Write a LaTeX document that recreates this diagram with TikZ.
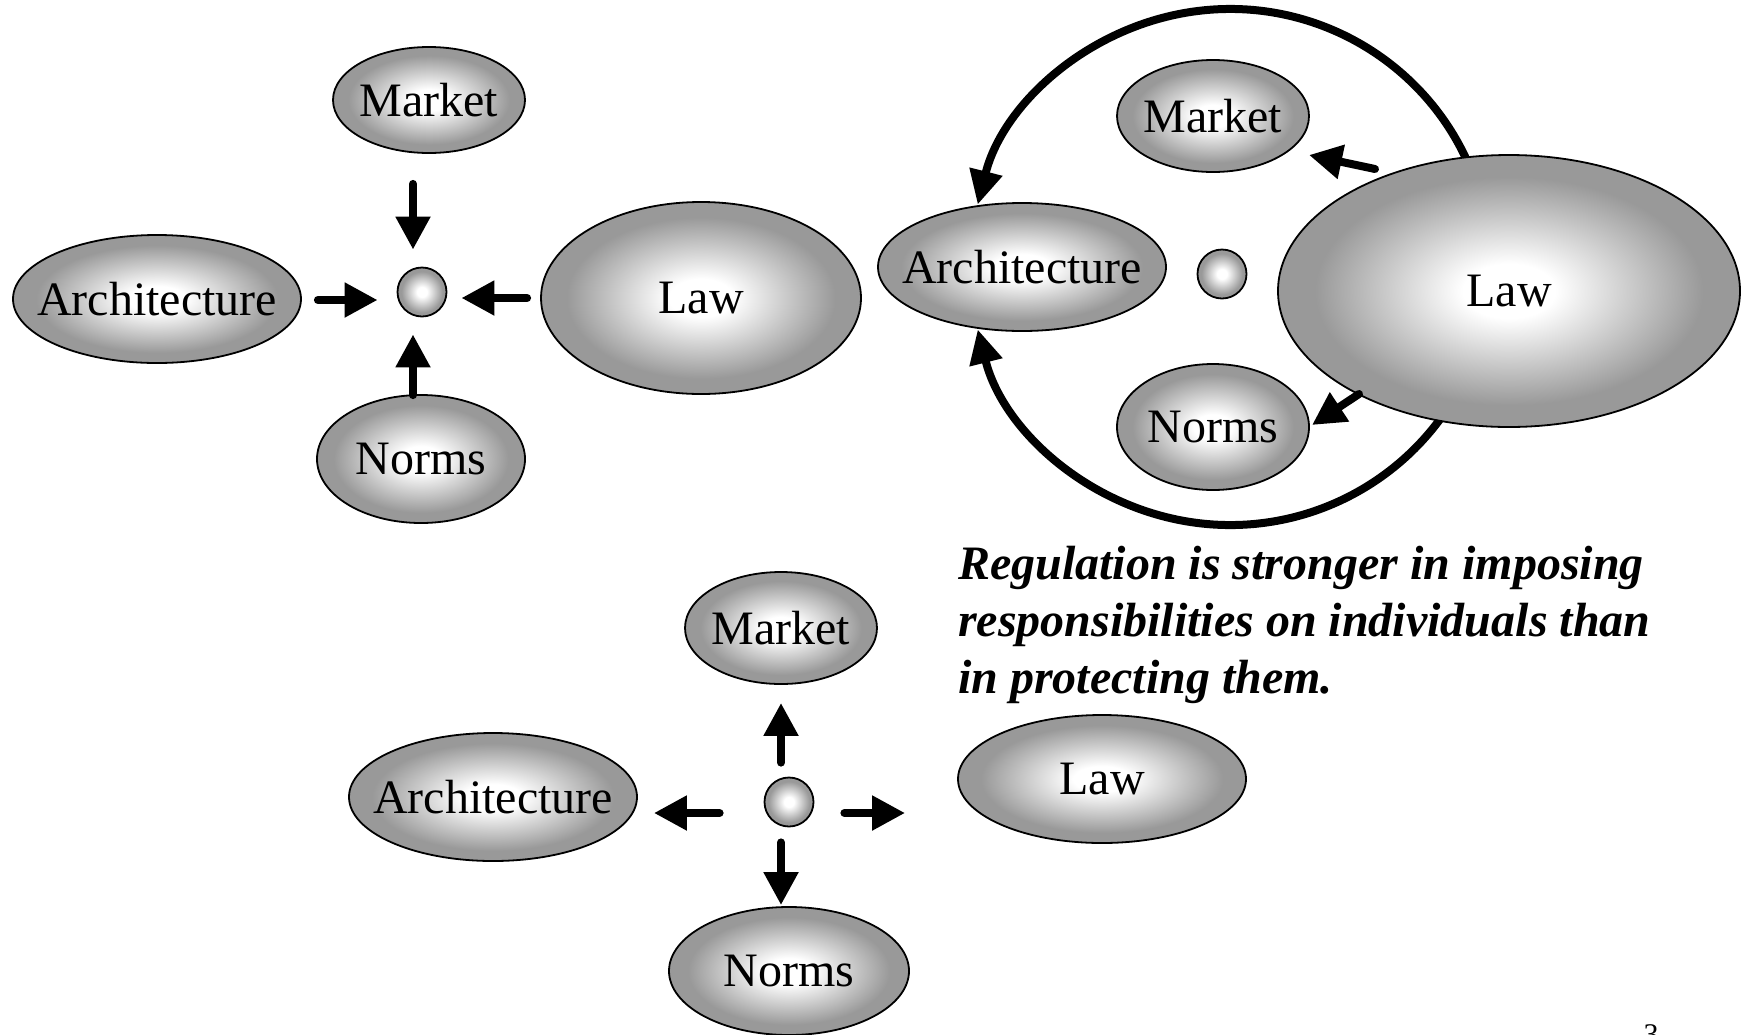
\documentclass[tikz,border=0pt]{standalone}
\usepackage{fontspec}
\setmainfont{Liberation Serif}
\usetikzlibrary{shapes.geometric,arrows.meta,calc,backgrounds}
\definecolor{ballgray}{gray}{0.60}
% white core fading to a flat grey rim
\pgfdeclareradialshading{ballshade}{\pgfpoint{0bp}{0bp}}{%
  color(0bp)=(white); color(5bp)=(white); color(21bp)=(ballgray);
  color(25bp)=(ballgray); color(50bp)=(ballgray)}
% label text takes no room, so the ellipse keeps its given size
\newcommand\balltext[1]{\makebox[0pt]{#1}}
\begin{document}
\begin{tikzpicture}[x=1pt,y=-1pt,
  ball/.style={ellipse, draw=black, line width=1.8pt, shading=ballshade,
    inner sep=0pt, font=\fontsize{48}{56}\selectfont},
  dot/.style={ball, minimum width=49pt, minimum height=49pt},
  arr/.style={line width=8pt, line cap=round,
    -{Triangle[length=33pt,width=33pt]}},
  ring/.style={line width=8pt, -{Triangle[length=34pt,width=32pt]}},
]
\useasboundingbox (0,0) rectangle (1742,1034);

% ---- converging forces ----
\node[ball, minimum width=192pt, minimum height=106pt] (mkt1) at (429,100) {\balltext{Market}};
\node[ball, minimum width=288pt, minimum height=128pt] (arch1) at (157,299) {\balltext{Architecture}};
\node[dot] (c1) at (422,292) {};
\node[ball, minimum width=320pt, minimum height=192pt] (law1) at (701,298) {\balltext{Law}};
\node[ball, minimum width=208pt, minimum height=128pt] (nrm1) at (421,459) {\balltext{Norms}};

\draw[arr] ($(mkt1.south -| c1)+(-9,30)$) -- ($(c1.north)+(-9,-17)$);
\draw[arr] ($(arch1.east |- c1)+(16,8)$) -- ($(c1.west)+(-19,8)$);
\draw[arr] ($(law1.west |- c1)+(-13,6)$) -- ($(c1.east)+(14,6)$);
\draw[arr] ($(nrm1.north -| c1)+(-9,1)$) -- ($(c1.south)+(-9,17)$);

% ---- law acting through the other modalities ----
\node[ball, minimum width=288pt, minimum height=128pt] (arch2) at (1022,267) {\balltext{Architecture}};
\node[ball, minimum width=192pt, minimum height=112pt] (mkt2) at (1213,116) {\balltext{Market}};
\node[dot] (c2) at (1222,274) {};
\node[ball, minimum width=192pt, minimum height=126pt] (nrm2) at (1213,427) {\balltext{Norms}};
\node[ball, minimum width=462pt, minimum height=272pt] (law2) at (1509,291) {\balltext{Law}};

\coordinate (ringc) at (1230,267);
\begin{scope}[on background layer]
  \fill[white] (0,0) rectangle (1742,1034);
  \draw[ring] ($(ringc)+(-10:260 and 258)$)
    arc[start angle=-10, end angle=-166, x radius=260, y radius=258];
  \draw[ring] ($(ringc)+(10:260 and 258)$)
    arc[start angle=10, end angle=166, x radius=260, y radius=258];
\end{scope}

\draw[arr] ($(law2.center)+(-134,-122)$) -- ($(mkt2.center)+(96,39)$);
\draw[arr] ($(law2.center)+(-150,103)$) -- ($(nrm2.center)+(99,-2)$);

% ---- diverging forces ----
\node[ball, minimum width=192pt, minimum height=112pt] (mkt3) at (781,628) {\balltext{Market}};
\node[ball, minimum width=288pt, minimum height=128pt] (arch3) at (493,797) {\balltext{Architecture}};
\node[dot] (c3) at (789,802) {};
\node[ball, minimum width=288pt, minimum height=128pt] (law3) at (1102,779) {\balltext{Law}};
\node[ball, minimum width=240pt, minimum height=128pt] (nrm3) at (789,971) {\balltext{Norms}};

\draw[arr] ($(c3.north)+(-8,-14)$) -- ($(mkt3.south -| c3)+(-8,18)$);
\draw[arr] ($(c3.west)+(-44,11)$) -- ($(arch3.east |- c3)+(16,11)$);
\draw[arr] ($(c3.east)+(30,11)$) -- ($(law3.west |- c3)+(-52,11)$);
\draw[arr] ($(c3.south)+(-8,15)$) -- ($(nrm3.north -| c3)+(-8,-1)$);

\node[anchor=base west, align=left, inner sep=0pt,
  font=\fontsize{48}{56.7}\selectfont\bfseries\itshape] (cap) at (958,693)
  {Regulation is stronger in imposing\\responsibilities on individuals than\\in protecting them.};

\node[anchor=north, inner sep=0pt, font=\fontsize{30}{36}\selectfont] (pg) at (1651,1024) {3};
\end{tikzpicture}
\end{document}
